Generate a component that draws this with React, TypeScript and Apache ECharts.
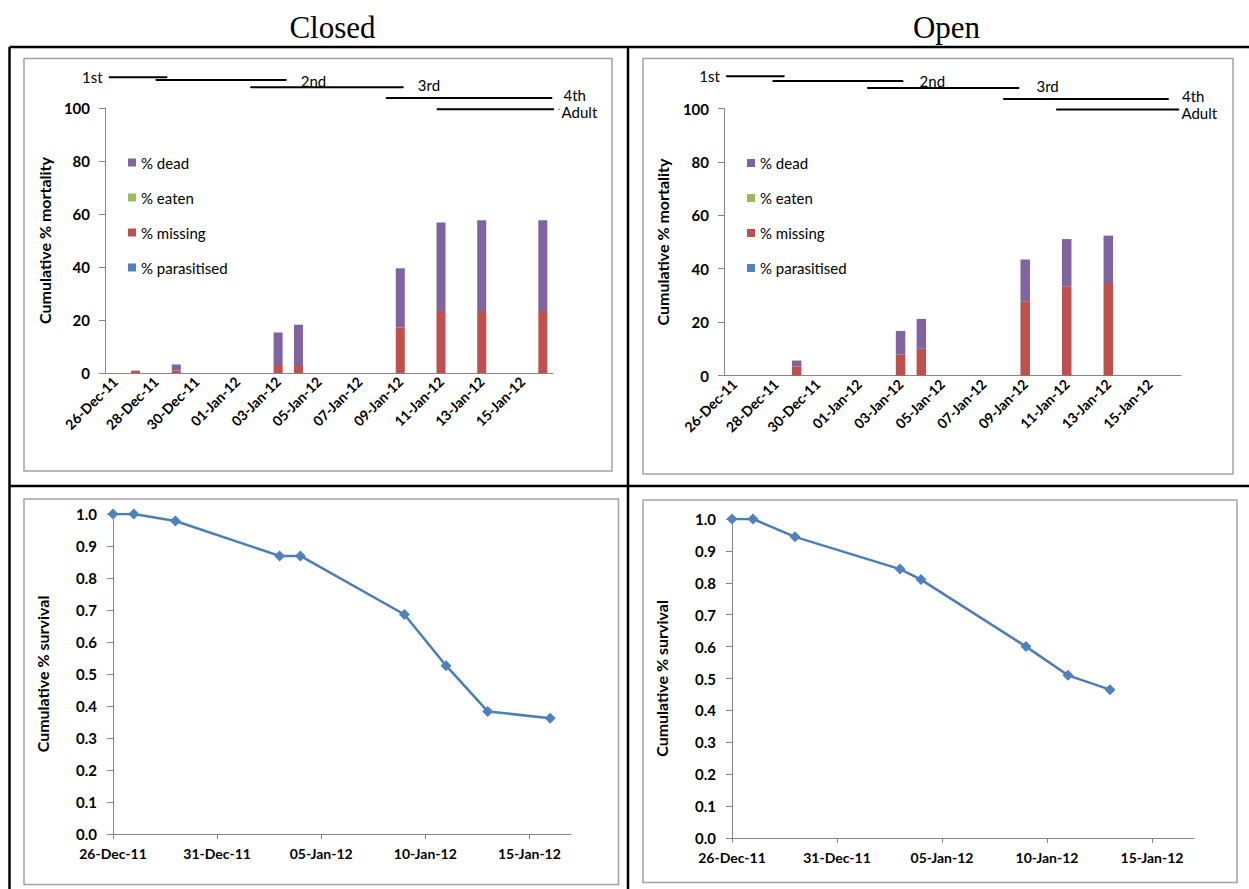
import React, { useEffect, useRef } from 'react';
import * as echarts from 'echarts';

// ---- data ----
const barCategories = [
  '26-Dec-11', '27-Dec-11', '28-Dec-11', '29-Dec-11', '30-Dec-11', '31-Dec-11',
  '01-Jan-12', '02-Jan-12', '03-Jan-12', '04-Jan-12', '05-Jan-12', '06-Jan-12',
  '07-Jan-12', '08-Jan-12', '09-Jan-12', '10-Jan-12', '11-Jan-12', '12-Jan-12',
  '13-Jan-12', '14-Jan-12', '15-Jan-12', '16-Jan-12',
];

const legendOrder = ['% dead', '% eaten', '% missing', '% parasitised'];

const closedMortalityDates = ['27-Dec-11', '29-Dec-11', '03-Jan-12', '04-Jan-12', '09-Jan-12', '11-Jan-12', '13-Jan-12', '16-Jan-12'];
const closedParasitised = [0, 0, 0, 0, 0, 0, 0, 0];
const closedMissing = [0.9, 0.9, 3.0, 3.0, 17.2, 23.4, 23.4, 23.4];
const closedEaten = [0, 0, 0, 0, 0, 0, 0, 0];
const closedDead = [0, 2.3, 12.3, 15.2, 22.3, 33.4, 34.2, 34.2];

const openMortalityDates = ['29-Dec-11', '03-Jan-12', '04-Jan-12', '09-Jan-12', '11-Jan-12', '13-Jan-12'];
const openParasitised = [0, 0, 0, 0, 0, 0];
const openMissing = [3.4, 7.8, 10.0, 27.8, 33.3, 34.6];
const openEaten = [0, 0, 0, 0, 0, 0];
const openDead = [2.2, 8.9, 11.2, 15.6, 17.8, 17.8];

const survivalTickLabels = ['26-Dec-11', '31-Dec-11', '05-Jan-12', '10-Jan-12', '15-Jan-12'];
const closedSurvivalDates = ['26-Dec-11', '27-Dec-11', '29-Dec-11', '03-Jan-12', '04-Jan-12', '09-Jan-12', '11-Jan-12', '13-Jan-12', '16-Jan-12'];
const closedSurvival = [1.0, 1.0, 0.978, 0.869, 0.869, 0.686, 0.526, 0.383, 0.362];
const openSurvivalDates = ['26-Dec-11', '27-Dec-11', '29-Dec-11', '03-Jan-12', '04-Jan-12', '09-Jan-12', '11-Jan-12', '13-Jan-12'];
const openSurvival = [1.0, 1.0, 0.944, 0.843, 0.81, 0.6, 0.51, 0.465];

// instar stages: start / end in days after 26-Dec-11, level on the % axis
const stageNames = ['1st', '2nd', '3rd', '4th', 'Adult'];
const closedStageStart = [0.2, 2.5, 7.15, 13.8, 16.3];
const closedStageEnd = [3.05, 8.9, 14.65, 21.95, 22.3];
const closedStageLevel = [111.6, 110.6, 107.8, 103.8, 99.5];
const openStageStart = [0.11, 2.35, 6.9, 13.45, 16.0];
const openStageEnd = [2.9, 8.62, 14.2, 21.4, 21.9];
const openStageLevel = [112.1, 110.3, 107.7, 103.6, 99.6];

// ---- layout / style ----
const W = 1249;
const H = 889;
const FONT = 'Lato';
const AXIS_GREY = '#868686';
const COLORS: Record<string, string> = {
  '% dead': '#8064A2',
  '% eaten': '#9BBB59',
  '% missing': '#C0504D',
  '% parasitised': '#4F81BD',
};
const LINE_BLUE = '#4A7EBB';
const MARKER_BLUE = '#4F81BD';

// label placement for each stage bar: which end, side, gap and vertical nudge
const closedStageLabels = [
  { at: 0, position: 'left', distance: 6, dy: 0 },
  { at: 1, position: 'right', distance: 14, dy: 1 },
  { at: 1, position: 'right', distance: 14, dy: -2 },
  { at: 1, position: 'right', distance: 11, dy: -3 },
  { at: 1, position: 'right', distance: 2, dy: 3 },
];
const openStageLabels = [
  { at: 0, position: 'left', distance: 6, dy: 0 },
  { at: 1, position: 'right', distance: 16, dy: 0 },
  { at: 1, position: 'right', distance: 17, dy: -2 },
  { at: 1, position: 'right', distance: 13, dy: -3 },
  { at: 1, position: 'right', distance: 2, dy: 3 },
];

const MONTHS = ['Jan', 'Feb', 'Mar', 'Apr', 'May', 'Jun', 'Jul', 'Aug', 'Sep', 'Oct', 'Nov', 'Dec'];
function dayIndex(label: string): number {
  const [d, mon, yy] = label.split('-');
  const t = Date.UTC(2000 + Number(yy), MONTHS.indexOf(mon), Number(d));
  return Math.round((t - Date.UTC(2011, 11, 26)) / 86400000);
}

function barSeries(name: string, dates: string[], values: number[], xi: number, yi: number, stack: string, width: number) {
  return {
    type: 'bar',
    name,
    stack,
    xAxisIndex: xi,
    yAxisIndex: yi,
    barWidth: width,
    itemStyle: { color: COLORS[name] },
    data: dates.map((d, i) => [d, values[i]]),
  };
}

function stageSeries(start: number[], end: number[], level: number[], labels: any[], xi: number, yi: number) {
  return stageNames.map((name, i) => {
    const lab = labels[i];
    const pts = [[start[i], level[i]], [end[i], level[i]]].map((v, k) => ({
      value: v,
      label:
        k === lab.at
          ? {
              show: true,
              position: lab.position,
              distance: lab.distance,
              offset: [0, lab.dy],
              formatter: name,
              fontFamily: FONT,
              fontSize: 15,
              lineHeight: 14,
              color: '#000',
            }
          : { show: false },
    }));
    return {
      type: 'line',
      name: 'stage ' + name,
      xAxisIndex: xi,
      yAxisIndex: yi,
      clip: false,
      symbol: 'circle',
      symbolSize: 1,
      itemStyle: { color: '#000' },
      lineStyle: { color: '#000', width: 2 },
      label: { show: false },
      data: pts,
      z: 5,
    };
  });
}

function survivalSeries(name: string, dates: string[], values: number[], xi: number, yi: number) {
  return {
    type: 'line',
    name,
    xAxisIndex: xi,
    yAxisIndex: yi,
    symbol: 'diamond',
    symbolSize: 11,
    itemStyle: { color: MARKER_BLUE },
    lineStyle: { color: LINE_BLUE, width: 2.5 },
    data: dates.map((d, i) => [dayIndex(d), values[i]]),
  };
}

const axisLineStyle = { lineStyle: { color: AXIS_GREY, width: 1 } };
const labelBold = { fontFamily: FONT, fontWeight: 'bold' as const, color: '#000' };

function categoryAxis(gridIndex: number) {
  return {
    type: 'category',
    gridIndex,
    data: barCategories,
    boundaryGap: true,
    axisLine: axisLineStyle,
    axisTick: { interval: 1, length: 5, lineStyle: { color: AXIS_GREY } },
    axisLabel: { ...labelBold, interval: 1, rotate: 45, fontSize: 14, margin: 6 },
    splitLine: { show: false },
  };
}

function hiddenDayAxis(gridIndex: number) {
  return { type: 'value', gridIndex, min: 0, max: 22, show: false, splitLine: { show: false } };
}

function survivalXAxis(gridIndex: number) {
  const ticks = survivalTickLabels.map((l) => dayIndex(l));
  return {
    type: 'value',
    gridIndex,
    min: 0,
    max: 22,
    axisLine: axisLineStyle,
    axisTick: { show: true, length: 5, customValues: ticks, lineStyle: { color: AXIS_GREY } },
    axisLabel: {
      ...labelBold,
      fontSize: 14,
      margin: 12,
      customValues: ticks,
      formatter: (v: number) => {
        const i = ticks.indexOf(Math.round(v));
        return i >= 0 ? survivalTickLabels[i] : '';
      },
    },
    splitLine: { show: false },
  };
}

function mortalityYAxis(gridIndex: number, gap: number) {
  return {
    type: 'value',
    gridIndex,
    min: 0,
    max: 100,
    interval: 20,
    name: 'Cumulative % mortality',
    nameLocation: 'middle',
    nameGap: gap,
    nameTextStyle: { ...labelBold, fontSize: 16 },
    axisLine: { show: true, ...axisLineStyle },
    axisTick: { show: true, length: 6, lineStyle: { color: AXIS_GREY } },
    axisLabel: { ...labelBold, fontSize: 15, margin: 15 },
    splitLine: { show: false },
  };
}

function survivalYAxis(gridIndex: number) {
  return {
    type: 'value',
    gridIndex,
    min: 0,
    max: 1,
    interval: 0.1,
    name: 'Cumulative % survival',
    nameLocation: 'middle',
    nameGap: 63,
    nameTextStyle: { ...labelBold, fontSize: 16 },
    axisLine: { show: true, ...axisLineStyle },
    axisTick: { show: true, length: 6, lineStyle: { color: AXIS_GREY } },
    axisLabel: { ...labelBold, fontSize: 15, margin: 16, formatter: (v: number) => v.toFixed(1) },
    splitLine: { show: false },
  };
}

function legendAt(left: number, top: number) {
  return {
    orient: 'vertical',
    left,
    top,
    padding: 0,
    itemGap: 17,
    itemWidth: 8,
    itemHeight: 8,
    icon: 'rect',
    selectedMode: false,
    data: legendOrder,
    textStyle: { fontFamily: FONT, fontSize: 15, lineHeight: 18, color: '#000' },
  };
}

function frame(x1: number, y1: number, x2: number, y2: number) {
  return {
    type: 'rect',
    z: -10,
    shape: { x: x1, y: y1, width: x2 - x1, height: y2 - y1 },
    style: { fill: '#fff', stroke: '#a3a3a3', lineWidth: 1.5 },
  };
}

function rule(x1: number, y1: number, x2: number, y2: number) {
  return {
    type: 'line',
    z: 10,
    shape: { x1, y1, x2, y2 },
    style: { stroke: '#000', lineWidth: 2.5 },
  };
}

function heading(text: string, x: number) {
  return {
    type: 'text',
    x,
    y: 27,
    style: {
      text,
      fontFamily: 'Liberation Serif',
      fontSize: 31,
      fill: '#000',
      align: 'center',
      verticalAlign: 'middle',
    },
  };
}

export default function App() {
  const ref = useRef<HTMLDivElement>(null);

  useEffect(() => {
    if (!ref.current) return;
    const chart = echarts.init(ref.current, undefined, { renderer: 'svg', width: W, height: H });

    const option = {
      animation: false,
      backgroundColor: '#fff',
      textStyle: { fontFamily: FONT },
      grid: [
        { left: 105, top: 108, width: 448, height: 265 },
        { left: 724, top: 108.5, width: 457, height: 267 },
        { left: 113, top: 514, width: 458, height: 320 },
        { left: 732, top: 519, width: 462, height: 319 },
      ],
      xAxis: [
        categoryAxis(0),
        hiddenDayAxis(0),
        categoryAxis(1),
        hiddenDayAxis(1),
        survivalXAxis(2),
        survivalXAxis(3),
      ],
      yAxis: [mortalityYAxis(0, 53), mortalityYAxis(1, 54), survivalYAxis(2), survivalYAxis(3)],
      legend: [legendAt(128, 153.5), legendAt(747, 154)],
      series: [
        barSeries('% parasitised', closedMortalityDates, closedParasitised, 0, 0, 'closed', 9),
        barSeries('% missing', closedMortalityDates, closedMissing, 0, 0, 'closed', 9),
        barSeries('% eaten', closedMortalityDates, closedEaten, 0, 0, 'closed', 9),
        barSeries('% dead', closedMortalityDates, closedDead, 0, 0, 'closed', 9),
        barSeries('% parasitised', openMortalityDates, openParasitised, 2, 1, 'open', 9.5),
        barSeries('% missing', openMortalityDates, openMissing, 2, 1, 'open', 9.5),
        barSeries('% eaten', openMortalityDates, openEaten, 2, 1, 'open', 9.5),
        barSeries('% dead', openMortalityDates, openDead, 2, 1, 'open', 9.5),
        ...stageSeries(closedStageStart, closedStageEnd, closedStageLevel, closedStageLabels, 1, 0),
        ...stageSeries(openStageStart, openStageEnd, openStageLevel, openStageLabels, 3, 1),
        survivalSeries('Closed survival', closedSurvivalDates, closedSurvival, 4, 2),
        survivalSeries('Open survival', openSurvivalDates, openSurvival, 5, 3),
      ],
      graphic: [
        frame(24, 58.5, 612, 471),
        frame(643, 58.5, 1233, 474),
        frame(24, 499, 618.5, 884.5),
        frame(643, 500, 1237, 882.5),
        rule(9.5, 47, W + 5, 47),
        rule(9.5, 47, 9.5, H + 5),
        rule(628, 47, 628, H + 5),
        rule(9.5, 486, W + 5, 486),
        heading('Closed', 332.5),
        heading('Open', 946.5),
      ],
    };

    chart.setOption(option as any);
    return () => chart.dispose();
  }, []);

  return (
    <div style={{ position: 'absolute', left: 0, top: 0, width: W, height: H, background: '#fff' }}>
      <div ref={ref} style={{ width: W, height: H }} />
    </div>
  );
}
